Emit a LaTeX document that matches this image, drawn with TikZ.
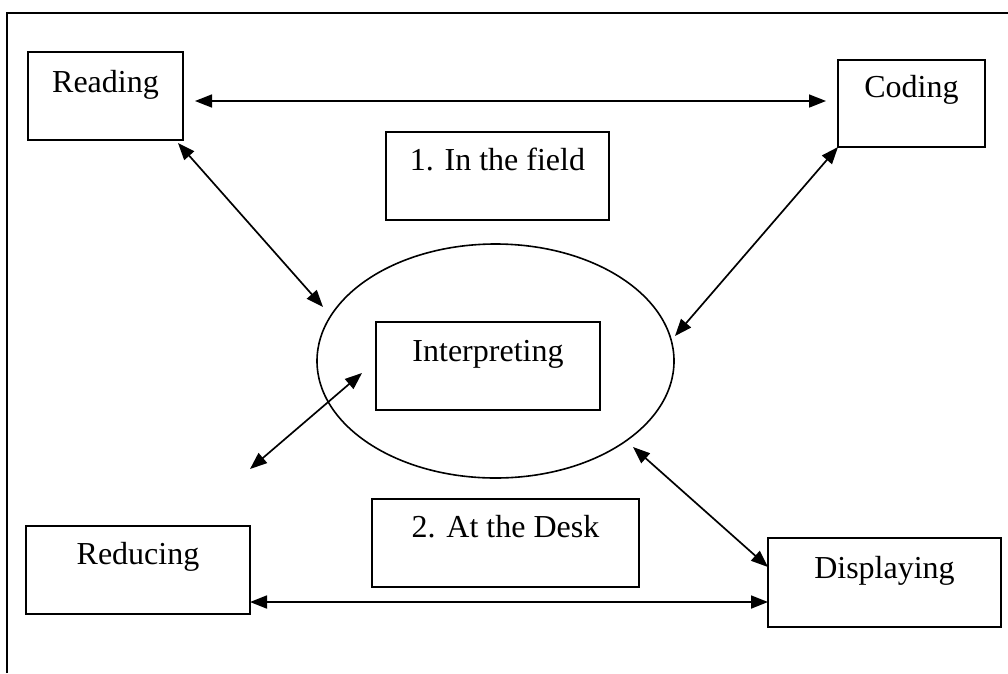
\documentclass[tikz,border=0pt]{standalone}
\usepackage{fontspec}
\setmainfont{Liberation Serif}
\usetikzlibrary{arrows.meta,shapes.geometric}
\begin{document}
\begin{tikzpicture}[x=1pt,y=-1pt,
  box/.style={draw,line width=1.9pt,rectangle,inner sep=0pt},
  lbl/.style={anchor=base,inner sep=0pt,font=\fontsize{32}{36}\selectfont},
  arr/.style={line width=1.7pt,{Triangle[length=17pt,width=13pt]}-{Triangle[length=17pt,width=13pt]}}]
\useasboundingbox (0,0) rectangle (1008,673);
% frame (top and left only)
\draw[line width=1.9pt] (7,673) -- (7,13) -- (1008,13);
% boxes
\node[box,minimum width=155pt,minimum height=88pt] (reading) at (105.5,96) {};
\node[box,minimum width=147pt,minimum height=87pt] (coding) at (911.5,103.5) {};
\node[box,minimum width=223pt,minimum height=88pt] (field) at (497.5,176) {};
\node[ellipse,draw,line width=1.6pt,minimum width=357pt,minimum height=234pt,inner sep=0pt] (ell) at (495.5,361) {};
\node[box,minimum width=224pt,minimum height=88pt] (interp) at (488,366) {};
\node[box,minimum width=224pt,minimum height=88pt] (reducing) at (138,570) {};
\node[box,minimum width=267pt,minimum height=88pt] (desk) at (505.5,543) {};
\node[box,minimum width=233pt,minimum height=89pt] (displaying) at (884.5,582.5) {};
% labels
\node[lbl] (treading) at ([yshift=-41pt]reading.north) {Reading};
\node[lbl] (tcoding) at ([yshift=-38pt]coding.north) {Coding};
\node[lbl] (tfield) at ([yshift=-39pt]field.north) {1. In the field};
\node[lbl] (tinterp) at ([yshift=-40pt]interp.north) {Interpreting};
\node[lbl] (treducing) at ([yshift=-39pt]reducing.north) {Reducing};
\node[lbl] (tdesk) at ([yshift=-39pt]desk.north) {2. At the Desk};
\node[lbl] (tdisp) at ([yshift=-41pt]displaying.north) {Displaying};
% connector end points
\coordinate (rE) at (195,101);
\coordinate (cW) at (826,101);
\coordinate (rSE) at (178,143);
\coordinate (eNW) at (323,307);
\coordinate (cSW) at (838,147);
\coordinate (eE) at (675,336);
\coordinate (iW) at (362,373);
\coordinate (free) at (250,469);
\coordinate (eSE) at (633,447);
\coordinate (dW) at (768,567);
\coordinate (redE) at (250,602);
\coordinate (dW2) at (768,602);
% connectors
\draw[arr] (rE) -- (cW);
\draw[arr] (rSE) -- (eNW);
\draw[arr] (cSW) -- (eE);
\draw[arr] (iW) -- (free);
\draw[arr] (eSE) -- (dW);
\draw[arr] (redE) -- (dW2);
\end{tikzpicture}
\end{document}
